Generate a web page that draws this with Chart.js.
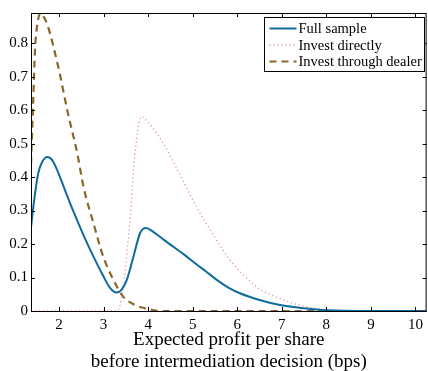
<!DOCTYPE html>
<html>
<head>
<meta charset="utf-8">
<script src="https://cdn.jsdelivr.net/npm/chart.js@4.4.0/dist/chart.umd.min.js"></script>
<style>
  html, body { margin: 0; padding: 0; background: #fff; }
  #wrap { width: 428px; height: 371px; }
</style>
</head>
<body>
<div id="wrap"><canvas id="chart" width="428" height="371"></canvas></div>
<script>
// data
const seriesLabels = ["Full sample", "Invest directly", "Invest through dealer"];

const fullX = [1.37, 1.45, 1.53, 1.62, 1.74, 1.85, 1.95, 2.05, 2.13, 2.32, 2.54, 2.77, 2.99, 3.14, 3.29, 3.4, 3.52, 3.67, 3.82, 3.95, 4.1, 4.3, 4.49, 4.8, 5.09, 5.3, 5.54, 5.8, 6.06, 6.5, 6.96, 7.5, 8.0, 9.0, 10.25];
const fullY = [0.25, 0.34, 0.41, 0.445, 0.46, 0.45, 0.423, 0.39, 0.362, 0.298, 0.229, 0.163, 0.105, 0.07, 0.055, 0.063, 0.093, 0.163, 0.233, 0.248, 0.238, 0.218, 0.199, 0.169, 0.139, 0.118, 0.093, 0.07, 0.053, 0.033, 0.018, 0.008, 0.002, 0, 0];

const directX = [1.37, 3.3, 3.36, 3.43, 3.5, 3.55, 3.6, 3.67, 3.73, 3.79, 3.85, 4.0, 4.34, 4.7, 5.09, 5.45, 5.83, 6.2, 6.51, 6.73, 7.0, 7.25, 7.5, 7.85, 8.2, 9.0, 10.25];
const directY = [0, 0, 0.013, 0.063, 0.14, 0.21, 0.28, 0.42, 0.5, 0.56, 0.58, 0.563, 0.5, 0.41, 0.31, 0.23, 0.153, 0.1, 0.065, 0.05, 0.035, 0.023, 0.014, 0.006, 0.002, 0, 0];

const dealerX = [1.37, 1.42, 1.46, 1.53, 1.59, 1.67, 1.75, 1.98, 2.2, 2.41, 2.55, 2.77, 2.99, 3.22, 3.44, 3.7, 3.93, 4.1, 4.3, 5.0, 10.25];
const dealerY = [0.44, 0.63, 0.78, 0.87, 0.89, 0.875, 0.85, 0.73, 0.59, 0.47, 0.37, 0.263, 0.163, 0.093, 0.043, 0.018, 0.008, 0.003, 0, 0, 0];

const xTicks = [2, 3, 4, 5, 6, 7, 8, 9, 10];
const yTicks = [0, 0.1, 0.2, 0.3, 0.4, 0.5, 0.6, 0.7, 0.8];

const serif = "'Liberation Serif', 'Times New Roman', serif";
const colors = ["#0f6b9c", "#e0788a", "#8b6629"];

const toPoints = (xs, ys) => xs.map((x, i) => ({ x: x, y: ys[i] }));

// matlab-ish frame: inward ticks on all four sides + legend box
const framePlugin = {
  id: "frame",
  afterDraw(chart) {
    const ctx = chart.ctx;
    const a = chart.chartArea;
    const xs = chart.scales.x, ys = chart.scales.y;
    ctx.save();
    ctx.strokeStyle = "#000";
    ctx.lineWidth = 1;
    ctx.strokeRect(a.left + 0.5, a.top + 0.5, a.right - a.left - 1, a.bottom - a.top);
    ctx.beginPath();
    xTicks.forEach(v => {
      const px = Math.round(xs.getPixelForValue(v)) + 0.5;
      ctx.moveTo(px, a.bottom); ctx.lineTo(px, a.bottom - 4);
      ctx.moveTo(px, a.top); ctx.lineTo(px, a.top + 4);
    });
    yTicks.forEach(v => {
      const py = Math.round(ys.getPixelForValue(v)) + 0.5;
      ctx.moveTo(a.left, py); ctx.lineTo(a.left + 4, py);
      ctx.moveTo(a.right, py); ctx.lineTo(a.right - 4, py);
    });
    ctx.stroke();

    // legend
    const bx = 264.5, by = 17.5, bw = 160, bh = 54;
    ctx.fillStyle = "#fff";
    ctx.fillRect(bx, by, bw, bh);
    ctx.strokeRect(bx, by, bw, bh);
    ctx.font = "14.5px " + serif;
    ctx.textBaseline = "middle";
    chart.data.datasets.forEach((ds, i) => {
      const y = by + 11 + i * 16.5;
      ctx.save();
      ctx.strokeStyle = ds.borderColor;
      ctx.lineWidth = ds.borderWidth;
      ctx.setLineDash(ds.borderDash || []);
      ctx.beginPath();
      ctx.moveTo(bx + 5, y); ctx.lineTo(bx + 32, y);
      ctx.stroke();
      ctx.restore();
      ctx.fillStyle = "#000";
      ctx.fillText(ds.label, bx + 34, y + 1);
    });
    ctx.restore();
  }
};

new Chart(document.getElementById("chart"), {
  type: "line",
  data: {
    datasets: [
      {
        label: seriesLabels[0],
        data: toPoints(fullX, fullY),
        borderColor: colors[0],
        borderWidth: 2,
        cubicInterpolationMode: "monotone",
        pointRadius: 0
      },
      {
        label: seriesLabels[1],
        data: toPoints(directX, directY),
        borderColor: colors[1],
        borderWidth: 1.3,
        borderDash: [1, 3],
        cubicInterpolationMode: "monotone",
        pointRadius: 0
      },
      {
        label: seriesLabels[2],
        data: toPoints(dealerX, dealerY),
        borderColor: colors[2],
        borderWidth: 2.2,
        borderDash: [7, 5],
        cubicInterpolationMode: "monotone",
        pointRadius: 0
      }
    ]
  },
  options: {
    responsive: false,
    animation: false,
    layout: { padding: { top: 13, right: 1, left: 0, bottom: 0 } },
    plugins: { legend: { display: false }, tooltip: { enabled: false } },
    scales: {
      x: {
        type: "linear",
        min: 1.37,
        max: 10.25,
        afterFit(s) { s.height = 60; },
        afterBuildTicks(s) { s.ticks = xTicks.map(v => ({ value: v })); },
        grid: { display: false, drawTicks: false },
        border: { display: false },
        ticks: { color: "#000", padding: 5, maxRotation: 0, font: { family: serif, size: 15 } },
        title: {
          display: true,
          text: ["Expected profit per share", "before intermediation decision (bps)"],
          color: "#000",
          padding: { top: 0, bottom: -2 },
          font: { family: serif, size: 19, lineHeight: 1.17 }
        }
      },
      y: {
        min: 0,
        max: 0.89,
        afterFit(s) { s.width = 31; },
        afterBuildTicks(s) { s.ticks = yTicks.map(v => ({ value: v })); },
        grid: { display: false, drawTicks: false },
        border: { display: false },
        ticks: { color: "#000", padding: 3, font: { family: serif, size: 15 } }
      }
    }
  },
  plugins: [framePlugin]
});
</script>
</body>
</html>
